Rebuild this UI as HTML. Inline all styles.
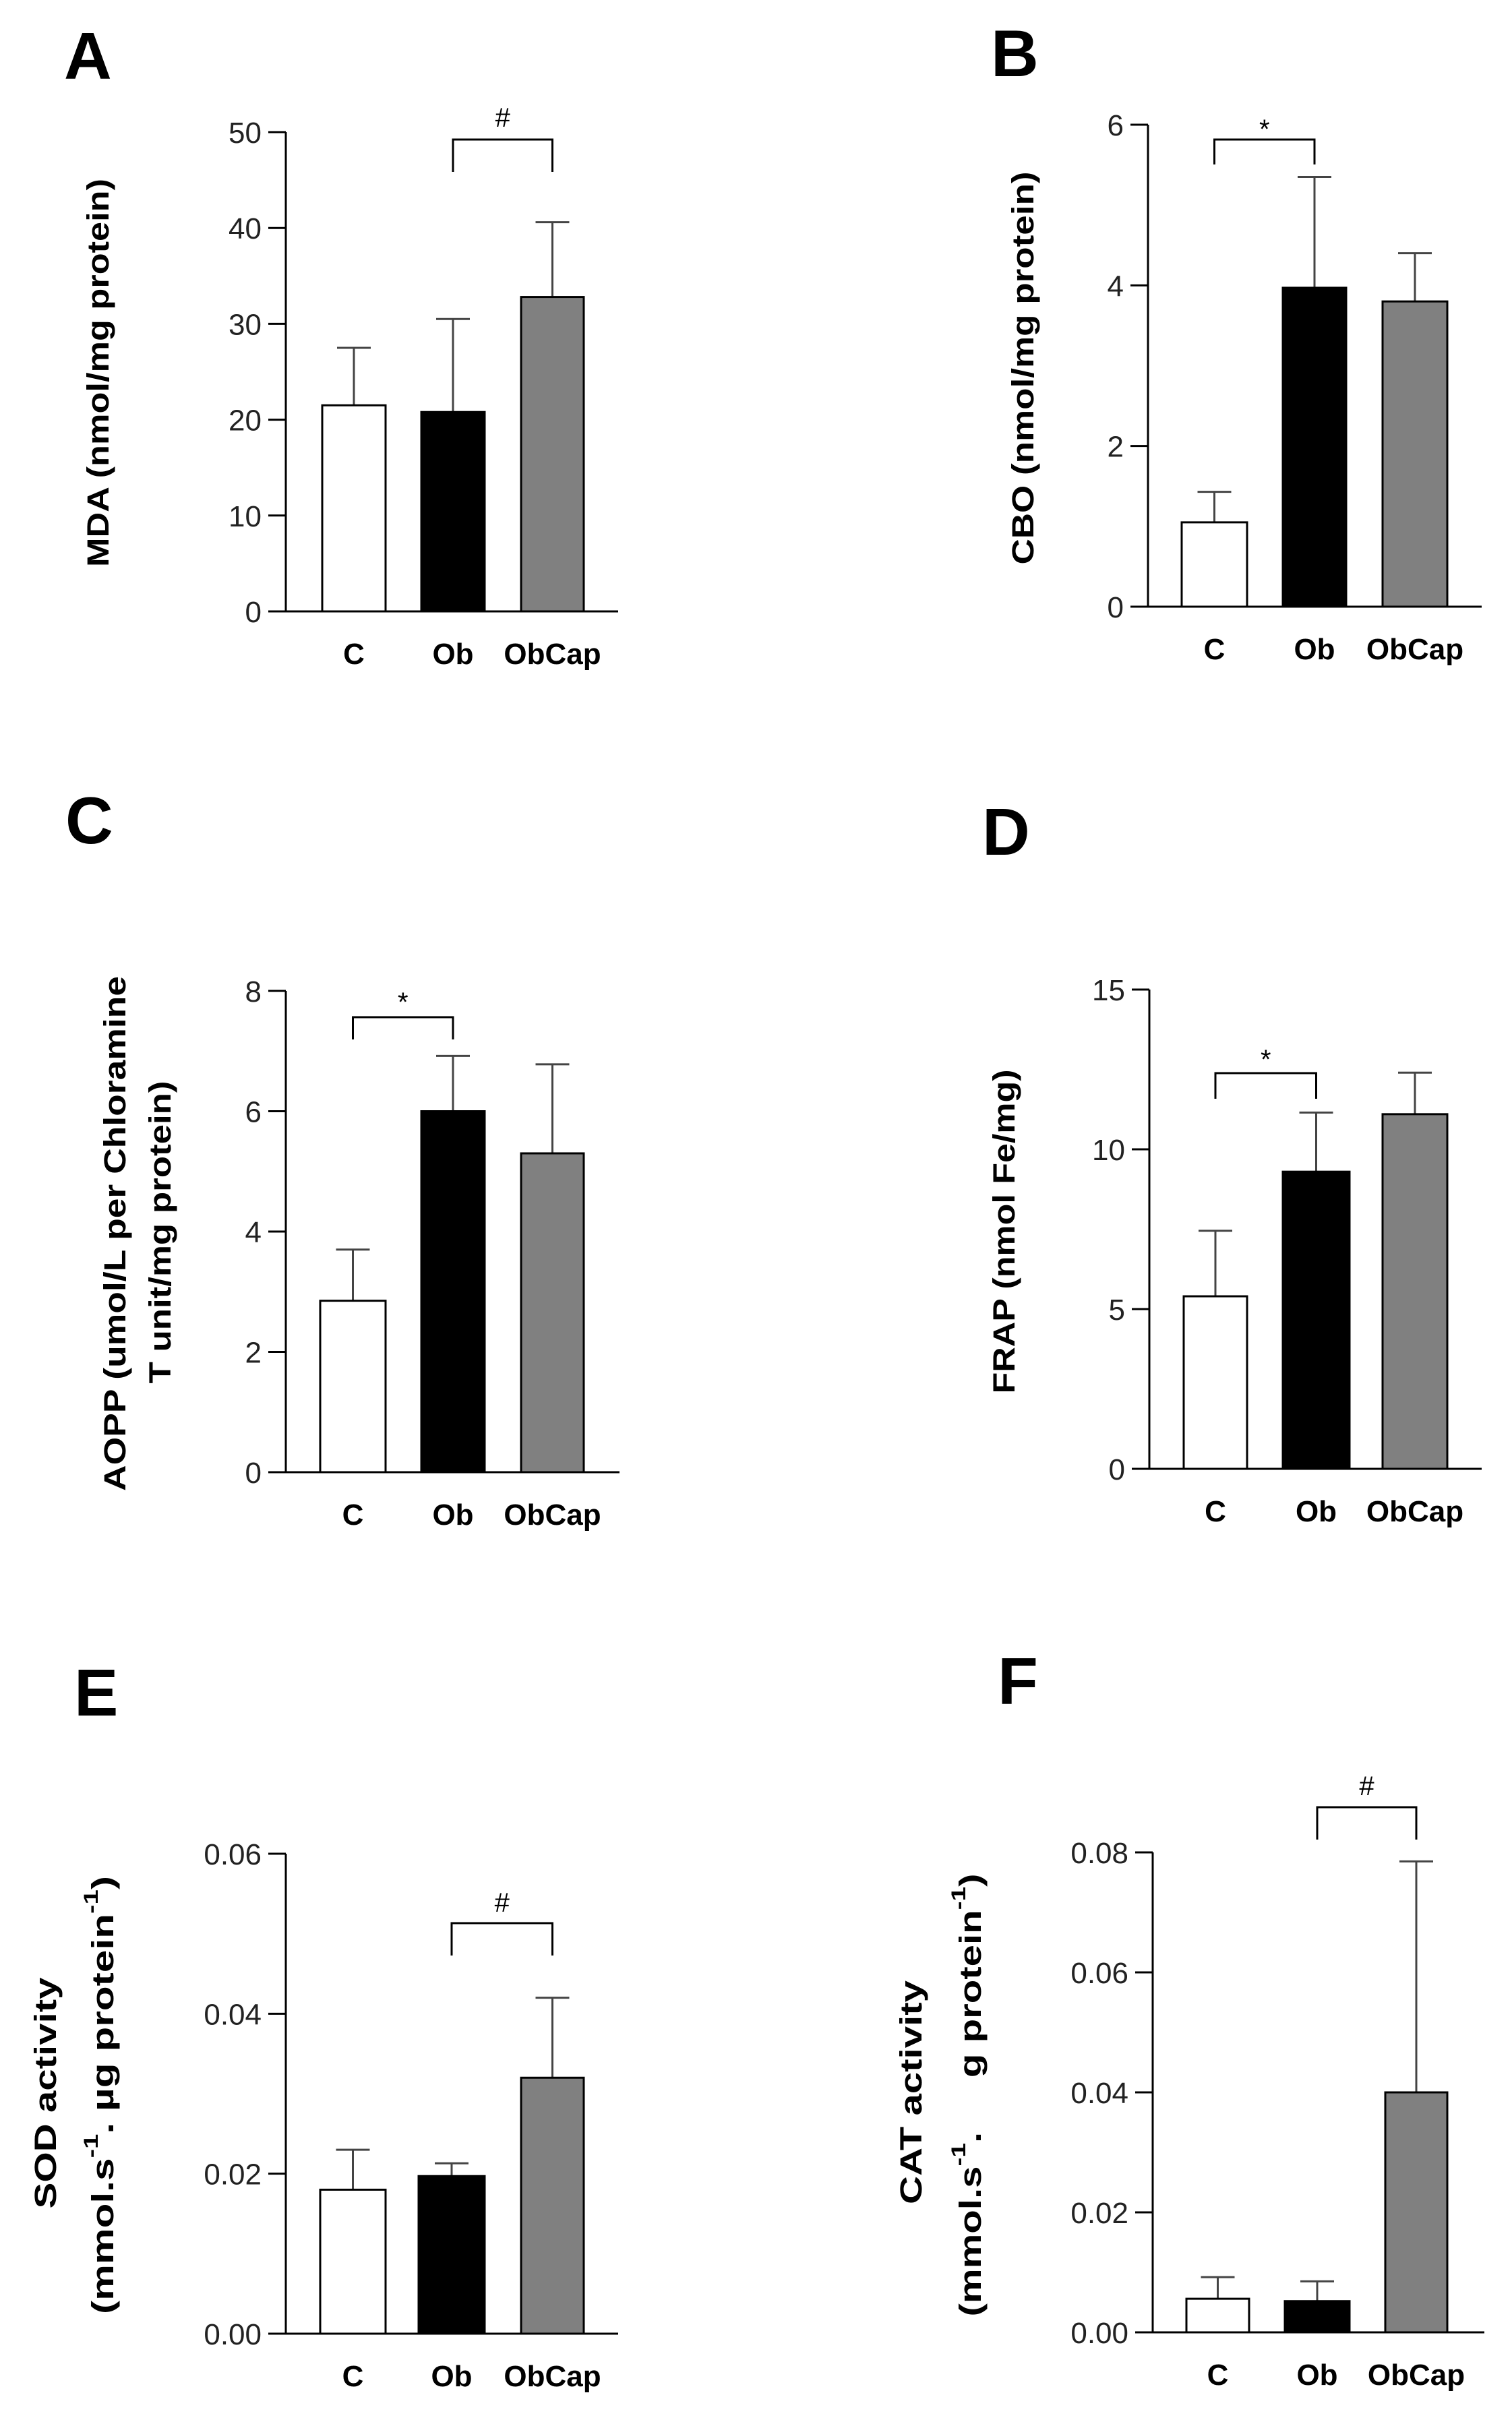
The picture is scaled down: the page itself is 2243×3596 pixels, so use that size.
<!DOCTYPE html>
<html><head><meta charset="utf-8">
<style>
html,body{margin:0;padding:0;background:#fff;}
svg{display:block;}
text{font-family:"Liberation Sans",Arial,sans-serif;}
</style></head>
<body>
<svg id="fig" xmlns="http://www.w3.org/2000/svg" width="2243" height="3596" viewBox="0 0 2243 3596"></svg>
<script>
// ---- data ----
const categories = ["C", "Ob", "ObCap"];
const mdaValues = [21.5, 20.8, 32.8];
const mdaErrors = [27.5, 30.5, 40.6];
const mdaTicks = [0, 10, 20, 30, 40, 50];
const mdaTickLabels = ["0", "10", "20", "30", "40", "50"];
const cboValues = [1.05, 3.97, 3.8];
const cboErrors = [1.43, 5.35, 4.4];
const cboTicks = [0, 2, 4, 6];
const cboTickLabels = ["0", "2", "4", "6"];
const aoppValues = [2.85, 6.0, 5.3];
const aoppErrors = [3.7, 6.92, 6.78];
const aoppTicks = [0, 2, 4, 6, 8];
const aoppTickLabels = ["0", "2", "4", "6", "8"];
const frapValues = [5.4, 9.3, 11.1];
const frapErrors = [7.45, 11.15, 12.4];
const frapTicks = [0, 5, 10, 15];
const frapTickLabels = ["0", "5", "10", "15"];
const sodValues = [0.018, 0.0197, 0.032];
const sodErrors = [0.023, 0.0213, 0.042];
const sodTicks = [0, 0.02, 0.04, 0.06];
const sodTickLabels = ["0.00", "0.02", "0.04", "0.06"];
const catValues = [0.0056, 0.0052, 0.040];
const catErrors = [0.0092, 0.0085, 0.0785];
const catTicks = [0, 0.02, 0.04, 0.06, 0.08];
const catTickLabels = ["0.00", "0.02", "0.04", "0.06", "0.08"];

const NS = "http://www.w3.org/2000/svg";
const svg = document.getElementById("fig");
const fills = ["#ffffff", "#000000", "#808080"];
const DX = 6;

function mk(tag, attrs, parent) {
  const e = document.createElementNS(NS, tag);
  for (const k in attrs) e.setAttribute(k, attrs[k]);
  (parent || svg).appendChild(e);
  return e;
}

const panels = [
  {id:"a", letter:"A", lx:95, ly:117, ax:418, y0:907, y1:196, xend:911, ymax:50,
   bars:[[472,566],[619,713],[767,860]], values:mdaValues, errors:mdaErrors, ticks:mdaTicks, tickLabels:mdaTickLabels,
   br:[1,2], brTop:207, brBot:255, mark:"#", markY:188,
   titles:[{x:145, y:553, len:576, parts:[["MDA (nmol/mg protein)"]]}]},
  {id:"b", letter:"B", lx:1470, ly:113, ax:1697, y0:900, y1:185, xend:2192, ymax:6,
   bars:[[1747,1844],[1897,1991],[2045,2141]], values:cboValues, errors:cboErrors, ticks:cboTicks, tickLabels:cboTickLabels,
   br:[0,1], brTop:207, brBot:244, mark:"*", markY:205,
   titles:[{x:1517, y:546, len:583, parts:[["CBO (nmol/mg protein)"]]}]},
  {id:"c", letter:"C", lx:97, ly:1251, ax:418, y0:2184, y1:1470, xend:913, ymax:8,
   bars:[[469,566],[619,713],[767,860]], values:aoppValues, errors:aoppErrors, ticks:aoppTicks, tickLabels:aoppTickLabels,
   br:[0,1], brTop:1509, brBot:1542, mark:"*", markY:1500,
   titles:[{x:170, y:1830, len:764, parts:[["AOPP (umol/L per Chloramine"]]},
           {x:237, y:1828, len:449, parts:[["T unit/mg protein)"]]}]},
  {id:"d", letter:"D", lx:1457, ly:1268, ax:1699, y0:2179, y1:1468, xend:2192, ymax:15,
   bars:[[1750,1844],[1897,1996],[2045,2141]], values:frapValues, errors:frapErrors, ticks:frapTicks, tickLabels:frapTickLabels,
   br:[0,1], brTop:1592, brBot:1630, mark:"*", markY:1585,
   titles:[{x:1489, y:1827, len:481, parts:[["FRAP (nmol Fe/mg)"]]}]},
  {id:"e", letter:"E", lx:110, ly:2545, ax:418, y0:3462, y1:2750, xend:911, ymax:0.06,
   bars:[[469,566],[615,713],[767,860]], values:sodValues, errors:sodErrors, ticks:sodTicks, tickLabels:sodTickLabels,
   br:[1,2], brTop:2853, brBot:2901, mark:"#", markY:2836,
   titles:[{x:67, y:3105, len:343, parts:[["SOD activity"]]},
           {x:152, y:3108, len:650, parts:[["(mmol.s"],["-1","sup"],[". \u00b5g protein"],["-1","sup"],[")"]]}]},
  {id:"f", letter:"F", lx:1480, ly:2528, ax:1704, y0:3460, y1:2748, xend:2196, ymax:0.08,
   bars:[[1754,1847],[1900,1996],[2049,2141]], values:catValues, errors:catErrors, ticks:catTicks, tickLabels:catTickLabels,
   br:[1,2], brTop:2681, brBot:2729, mark:"#", markY:2663,
   titles:[{x:1351, y:3104, len:332, parts:[["CAT activity"]]},
           {x:1439, y:3108, len:657, parts:[["(mmol.s"],["-1","sup"],[".\u00a0\u00a0\u00a0\u00a0\u00a0g protein"],["-1","sup"],[")"]]}]}
];

panels.forEach(p => {
  const g = mk("g", {});
  
  
  const yScale = v => p.y0 - (v / p.ymax) * (p.y0 - p.y1);
  const ax = p.ax + DX;

  const letter = mk("text", {x:p.lx, y:p.ly, "font-size":98, "font-weight":"bold", fill:"#000"}, g);
  letter.textContent = p.letter;
  
  

  const yAxis = mk("line", {x1:ax, y1:p.y0, x2:ax, y2:p.y1, stroke:"#000", "stroke-width":3}, g);
  
  
  const xAxis = mk("line", {x1:ax - 26, y1:p.y0, x2:p.xend + DX, y2:p.y0, stroke:"#000", "stroke-width":3}, g);
  
  

  p.ticks.forEach((t, i) => {
    const y = yScale(t);
    const tk = mk("line", {x1:ax - 26, y1:y, x2:ax, y2:y, stroke:"#000", "stroke-width":3}, g);
    
    
    const tl = mk("text", {x:ax - 36, y:y + 16, "font-size":44, "text-anchor":"end", fill:"#222"}, g);
    tl.textContent = p.tickLabels[i];
    
    
  });

  categories.forEach((c, i) => {
    const xl = p.bars[i][0] + DX, xr = p.bars[i][1] + DX;
    const cx = (xl + xr) / 2;
    const yv = yScale(p.values[i]);
    const ye = yScale(p.errors[i]);
    const eb = mk("line", {x1:cx, y1:yv, x2:cx, y2:ye, stroke:"#444", "stroke-width":3}, g);
    
    
    const cap = mk("line", {x1:cx - 25, y1:ye, x2:cx + 25, y2:ye, stroke:"#444", "stroke-width":3}, g);
    
    
    const bar = mk("rect", {x:xl, y:yv, width:xr - xl, height:p.y0 - yv, fill:fills[i], stroke:"#000", "stroke-width":3}, g);
    
    
    const cl = mk("text", {x:cx, y:p.y0 + 78, "font-size":44, "font-weight":"bold", "text-anchor":"middle", fill:"#000"}, g);
    cl.textContent = c;
    
    
  });

  const bx1 = (p.bars[p.br[0]][0] + p.bars[p.br[0]][1]) / 2 + DX;
  const bx2 = (p.bars[p.br[1]][0] + p.bars[p.br[1]][1]) / 2 + DX;
  const br = mk("polyline", {points:`${bx1},${p.brBot} ${bx1},${p.brTop} ${bx2},${p.brTop} ${bx2},${p.brBot}`, fill:"none", stroke:"#000", "stroke-width":3}, g);
  
  
  const mkTxt = mk("text", {x:(bx1 + bx2) / 2, y:p.markY, "font-size":40, "text-anchor":"middle", fill:"#000"}, g);
  mkTxt.textContent = p.mark;
  
  

  p.titles.forEach(t => {
    const tt = mk("text", {x:0, y:0, "font-size":45, "font-weight":"bold", "text-anchor":"middle", "dominant-baseline":"central",
      transform:`translate(${t.x},${t.y}) rotate(-90)`, textLength:t.len, lengthAdjust:"spacingAndGlyphs", fill:"#000"}, g);
    
    
    t.parts.forEach(pt => {
      const ts = mk("tspan", {}, tt);
      if (pt[1] === "sup") { ts.setAttribute("baseline-shift", "super"); ts.setAttribute("font-size", "30"); }
      ts.textContent = pt[0];
    });
  });
});
</script>
</body></html>
